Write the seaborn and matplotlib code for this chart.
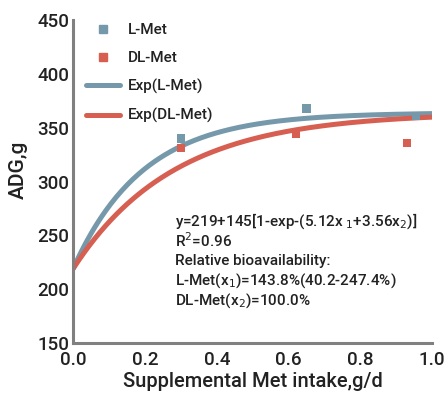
import numpy as np
import pandas as pd
import seaborn as sns
import matplotlib.pyplot as plt
from matplotlib.lines import Line2D

# Data
l_met_x = [0.30, 0.65, 0.955]
l_met_y = [340, 368, 361]
dl_met_x = [0.30, 0.62, 0.93]
dl_met_y = [331, 344, 336]

# Fitted exponential model stated on the chart: y = a + b[1-exp-(c1 x1 + c2 x2)]
fit_a = 219
fit_b = 145
fit_c_l = 5.12
fit_c_dl = 3.56

x_ticks = [0.0, 0.2, 0.4, 0.6, 0.8, 1.0]
y_ticks = [150, 200, 250, 300, 350, 400, 450]

blue = "#7599aa"
red = "#d65f52"
txt_color = "#222222"

sns.set_theme(style="white")
plt.rcParams['font.family'] = ['Roboto', 'DejaVu Sans']

fig = plt.figure(figsize=(4.46, 4.03), dpi=100)
ax = fig.add_axes([0.164, 0.149, 0.805, 0.801])

xs = np.linspace(0, 1, 200)
curves = pd.DataFrame({
    "x": np.concatenate([xs, xs]),
    "y": np.concatenate([fit_a + fit_b * (1 - np.exp(-fit_c_l * xs)),
                         fit_a + fit_b * (1 - np.exp(-fit_c_dl * xs))]),
    "series": ["Exp(L-Met)"] * len(xs) + ["Exp(DL-Met)"] * len(xs),
})
sns.lineplot(data=curves, x="x", y="y", hue="series",
             palette={"Exp(L-Met)": blue, "Exp(DL-Met)": red},
             linewidth=3.6, legend=False, ax=ax, zorder=2)

pts = pd.DataFrame({
    "x": l_met_x + dl_met_x,
    "y": l_met_y + dl_met_y,
    "series": ["L-Met"] * len(l_met_x) + ["DL-Met"] * len(dl_met_x),
})
sns.scatterplot(data=pts, x="x", y="y", hue="series", marker="s", s=36,
                palette={"L-Met": blue, "DL-Met": red}, edgecolor="none",
                legend=False, ax=ax, zorder=3)

ax.set_xlim(0, 1.0)
ax.set_ylim(150, 450)
ax.set_xticks(x_ticks)
ax.set_xticklabels([f"{v:.1f}" for v in x_ticks])
ax.set_yticks(y_ticks)
ax.set_yticklabels([str(v) for v in y_ticks])
ax.tick_params(axis="both", length=0, labelsize=13.5, colors=txt_color, pad=3)
ax.tick_params(axis="x", pad=6)
for lab in ax.get_xticklabels() + ax.get_yticklabels():
    lab.set_fontweight("medium")

ax.set_xlabel("Supplemental Met intake,g/d", fontsize=14.5, color=txt_color,
              fontweight="medium", labelpad=2)
ax.set_ylabel("ADG,g", fontsize=15, color=txt_color, fontweight="medium")
ax.yaxis.set_label_coords(-0.125, 0.535)

for s in ["top", "right"]:
    ax.spines[s].set_visible(False)
for s in ["left", "bottom"]:
    ax.spines[s].set_color("#808080")
    ax.spines[s].set_linewidth(2.2)

handles = [
    Line2D([], [], marker="s", linestyle="none", color=blue, markersize=6),
    Line2D([], [], marker="s", linestyle="none", color=red, markersize=6),
    Line2D([], [], color=blue, linewidth=3.6, solid_capstyle="round"),
    Line2D([], [], color=red, linewidth=3.6, solid_capstyle="round"),
]
leg = ax.legend(handles, ["L-Met", "DL-Met", "Exp(L-Met)", "Exp(DL-Met)"],
                loc="upper left", bbox_to_anchor=(0.01, 1.02), frameon=False,
                fontsize=11, labelspacing=0.92, handlelength=2.2,
                handletextpad=0.55, borderaxespad=0.2)
for t in leg.get_texts():
    t.set_fontweight("medium")
    t.set_color(txt_color)

lines = [
    r"y=219+145[1-exp-(5.12x$_{\ 1}$+3.56x$_2$)]",
    r"R$^2$=0.96",
    "Relative bioavailability:",
    r"L-Met(x$_1$)=143.8%(40.2-247.4%)",
    r"DL-Met(x$_2$)=100.0%",
]
for i, t in enumerate(lines):
    # positions given in pixels from the top of the figure
    ax.text(175, 403 - (221 + i * 20), t, transform=None, fontsize=11,
            color=txt_color, fontweight="medium", va="center", ha="left")

fig.savefig("out.png", dpi=100)
